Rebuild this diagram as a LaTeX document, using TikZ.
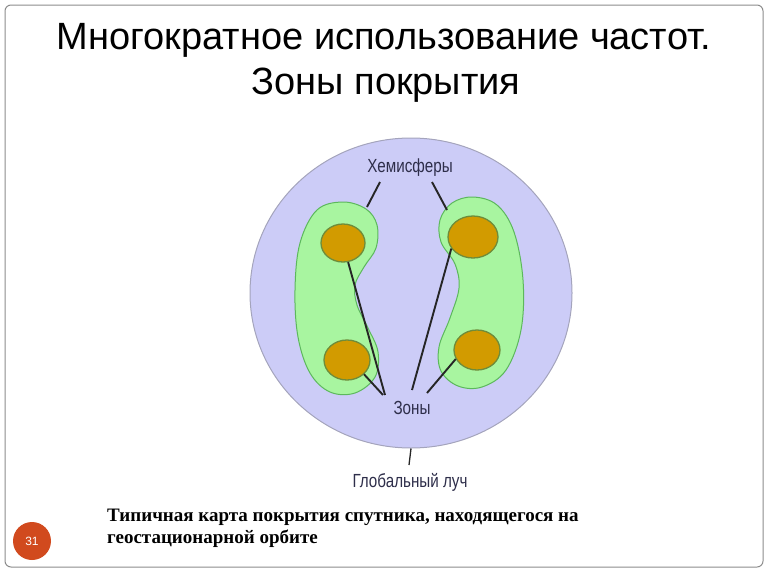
\documentclass[tikz,border=0pt]{standalone}
\usepackage{fontspec}
\setmainfont{Liberation Serif}
\newfontfamily\titlefont{Liberation Sans}
\newfontfamily\labfont{Liberation Sans}[FakeStretch=0.8]
\newfontfamily\numfont{Liberation Sans}
\usetikzlibrary{shapes.geometric}
\definecolor{globe}{HTML}{CCCCF7}
\definecolor{globeline}{HTML}{A4A4BC}
\definecolor{hemi}{HTML}{A8F5A0}
\definecolor{hemiline}{HTML}{5CB85C}
\definecolor{zonefill}{HTML}{D29B00}
\definecolor{zoneline}{HTML}{6E8C3A}
\definecolor{labtext}{HTML}{2E2E4A}
\definecolor{pagered}{HTML}{D14A1E}
\definecolor{framegray}{HTML}{8C8C8C}
\tikzset{
  zone/.style={ellipse, draw=zoneline, fill=zonefill, line width=1.3pt, inner sep=0pt},
  hemiblob/.style={draw=hemiline, fill=hemi, line width=1pt},
  lab/.style={text=labtext, font=\labfont\fontsize{19}{21}\selectfont, inner sep=0pt},
  titletext/.style={font=\titlefont\fontsize{38}{45}\selectfont, inner sep=0pt, anchor=base},
  captext/.style={font=\bfseries\fontsize{19}{22}\selectfont, inner sep=0pt, anchor=base west},
  conn/.style={draw=black!85, line width=1.9pt},
}
\begin{document}
\begin{tikzpicture}[x=1pt,y=-1pt]
\useasboundingbox (0,0) rectangle (768,576);
% frame
\draw[framegray, line width=1pt, rounded corners=6pt] (5,5) rectangle (763,567);
% title
\node[titletext] (title1) at (384,49) {Многократное использование частот.};
\node[titletext] (title2) at (386,94) {Зоны покрытия};
% globe
\node[ellipse, draw=globeline, fill=globe, line width=1pt, minimum width=322pt, minimum height=310pt, inner sep=0pt] (globe) at (411,293) {};
% hemispheres
\path[hemiblob] plot[smooth cycle, tension=0.6] coordinates {(343,202) (366,209) (377,225) (376,248) (364,267) (355,285) (357,305) (368,328) (378,352) (375,377) (355,393) (330,392) (310,373) (298,337) (295,290) (300,243) (317,210)};
\path[hemiblob] plot[smooth cycle, tension=0.6] coordinates {(473,197) (452,203) (440,220) (441,242) (455,264) (459,288) (450,318) (439,347) (441,371) (458,386) (482,387) (506,370) (521,330) (523,280) (514,232) (497,205)};
% zones
\node[zone, minimum width=44pt, minimum height=38pt] (zlt) at (343,243) {};
\node[zone, minimum width=46pt, minimum height=40pt] (zlb) at (347,360) {};
\node[zone, minimum width=50pt, minimum height=42pt] (zrt) at (473,237) {};
\node[zone, minimum width=46pt, minimum height=40pt] (zrb) at (477,350) {};
% labels
\node[lab] (hemlab) at (410,168) {Хемисферы};
\node[lab] (zonlab) at (412,408) {Зоны};
\node[lab] (glolab) at (410,482) {Глобальный луч};
% connector points
\coordinate (hA) at (380,182);
\coordinate (hB) at (367,207);
\coordinate (hC) at (432,182);
\coordinate (hD) at (447,210);
\coordinate (zA) at (385,395);
\coordinate (zB) at (383,395);
\coordinate (zC) at (412,390);
\coordinate (zD) at (427,393);
\coordinate (gA) at (409,465);
% connectors
\draw[conn] (hA) -- (hB);
\draw[conn] (hC) -- (hD);
\draw[conn] (zlt.-75) -- (zA);
\draw[conn] (zlb.-40) -- (zB);
\draw[conn] (zrt.208) -- (zC);
\draw[conn] (zrb.203) -- (zD);
\draw[conn, line width=1.3pt] (globe.south) -- (gA);
% caption
\node[captext] (cap1) at (107,521) {Типичная карта покрытия спутника, находящегося на};
\node[captext] (cap2) at (107,543) {геостационарной орбите};
% page number
\node[circle, fill=pagered, minimum size=38pt, inner sep=0pt, text=white, font=\numfont\fontsize{12}{14}\selectfont] (page) at (32,541) {31};
\end{tikzpicture}
\end{document}
